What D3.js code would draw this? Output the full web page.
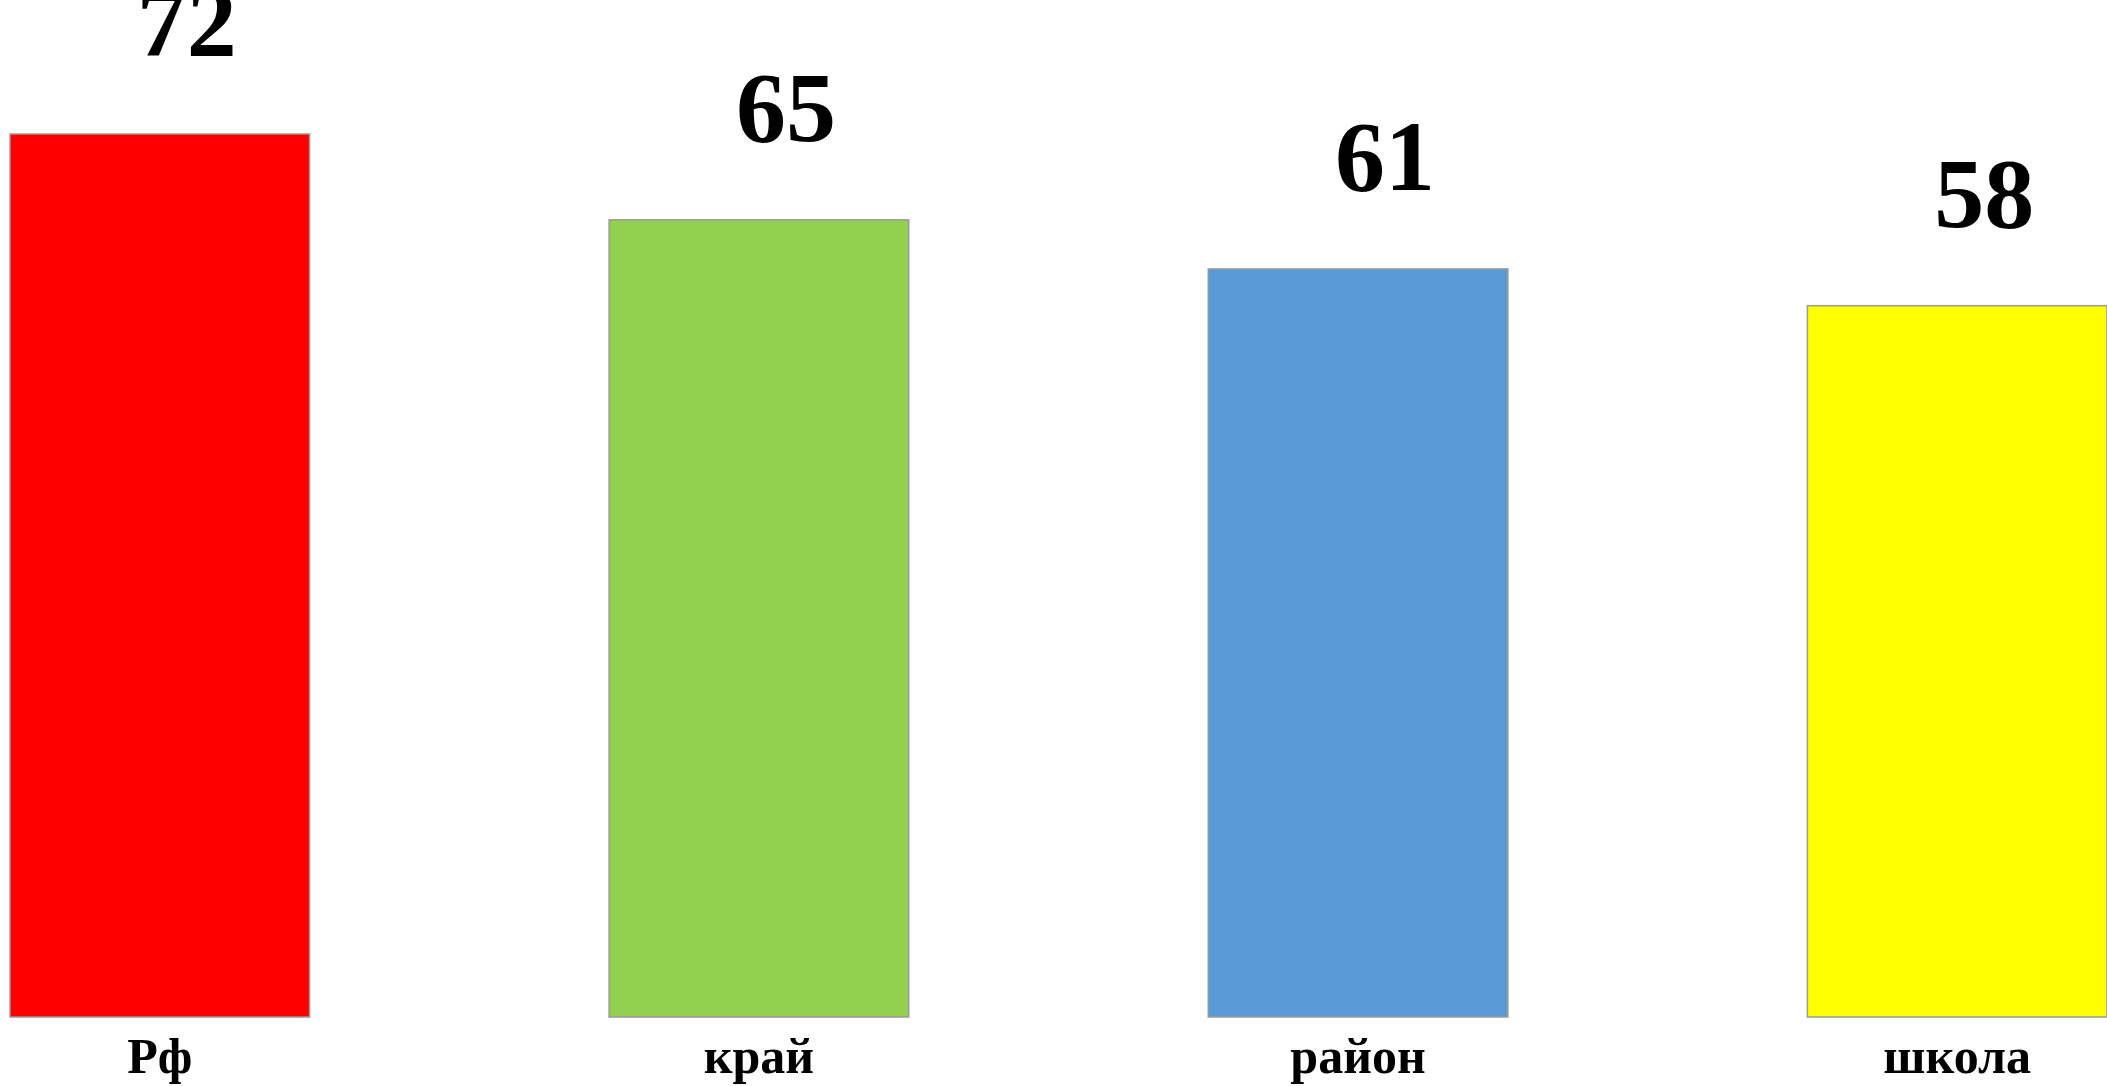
<!DOCTYPE html>
<html>
<head>
<meta charset="utf-8">
<script src="https://cdn.jsdelivr.net/npm/d3@7"></script>
<style>
  html, body { margin: 0; padding: 0; background: #fff; }
  svg { display: block; }
</style>
</head>
<body>
<svg id="chart" width="2107" height="1086"></svg>
<script>
const categories = ["Рф", "край", "район", "школа"];
const values = [72, 65, 61, 58];
const colors = ["#FF0000", "#92D050", "#5B9BD5", "#FFFF00"];

const svg = d3.select("#chart");
const x = d3.scaleBand().domain(categories).range([10, 2107]).paddingInner(0.5).paddingOuter(0);
const y = d3.scaleLinear().domain([0, 72]).range([1017, 134]);

svg.selectAll("rect.bar").data(categories).enter().append("rect")
  .attr("class", "bar")
  .attr("x", d => x(d))
  .attr("y", (d, i) => y(values[i]))
  .attr("width", x.bandwidth())
  .attr("height", (d, i) => y(0) - y(values[i]))
  .attr("fill", (d, i) => colors[i])
  .attr("stroke", "#9a9a9a")
  .attr("stroke-width", 1.5);

svg.selectAll("text.val").data(categories).enter().append("text")
  .attr("class", "val")
  .attr("x", d => x(d) + x.bandwidth() / 2 + 27)
  .attr("y", (d, i) => y(values[i]) - 79)
  .attr("text-anchor", "middle")
  .attr("font-family", "'Liberation Serif', 'Times New Roman', serif")
  .attr("font-weight", "bold")
  .attr("font-size", 100)
  .attr("fill", "#000")
  .text((d, i) => values[i]);

const xAxis = d3.axisBottom(x).tickSize(0).tickPadding(0);
const g = svg.append("g").attr("transform", "translate(0,1017)").call(xAxis);
g.select(".domain").remove();
g.selectAll("text")
  .attr("y", 56)
  .attr("dy", 0)
  .attr("font-family", "'Liberation Serif', 'Times New Roman', serif")
  .attr("font-weight", "bold")
  .attr("font-size", 50)
  .attr("fill", "#000");
</script>
</body>
</html>
